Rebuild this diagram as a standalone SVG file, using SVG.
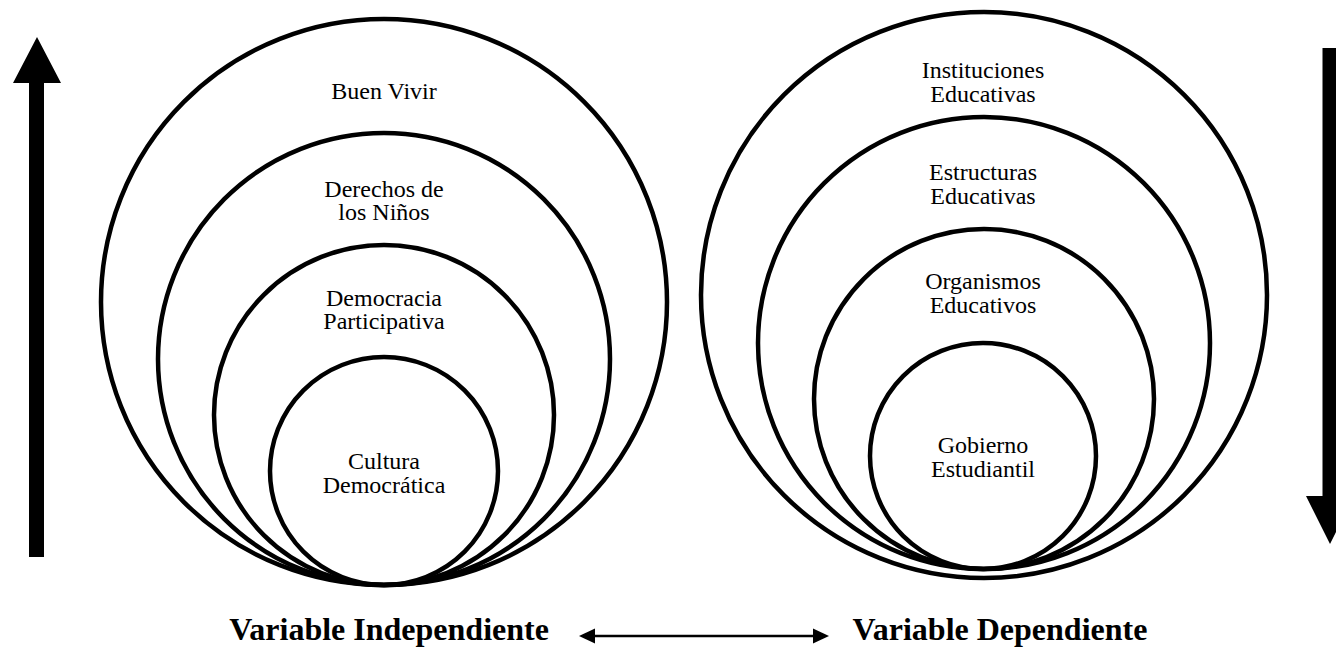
<svg xmlns="http://www.w3.org/2000/svg" width="1336" height="652" viewBox="0 0 1336 652">
<defs>
<style>
.ring{fill:none;stroke:#000;stroke-width:4.5}
.lbl{font-family:"Liberation Serif","Times New Roman",serif;font-size:24px;fill:#000;text-anchor:middle}
.var{font-family:"Liberation Serif","Times New Roman",serif;font-size:32px;font-weight:bold;fill:#000;text-anchor:middle}
.big{fill:#000}
</style>
<marker id="ah" viewBox="0 0 6 6" refX="5.5" refY="3" markerWidth="6" markerHeight="6" orient="auto-start-reverse" markerUnits="strokeWidth">
<path d="M0,0 L6,3 L0,6 Z" fill="#000"/>
</marker>
</defs>
<rect width="1336" height="652" fill="#fff"/>

<g id="left-set">
<g id="buen-vivir">
<circle class="ring" cx="384" cy="302" r="283"/>
<text class="lbl" x="384" y="99">Buen Vivir</text>
</g>
<g id="derechos">
<circle class="ring" cx="384" cy="359" r="226"/>
<text class="lbl" x="384" y="197">Derechos de</text>
<text class="lbl" x="384" y="220">los Niños</text>
</g>
<g id="democracia">
<circle class="ring" cx="384" cy="415" r="170"/>
<text class="lbl" x="384" y="306">Democracia</text>
<text class="lbl" x="384" y="329">Participativa</text>
</g>
<g id="cultura">
<circle class="ring" cx="384" cy="471" r="114"/>
<text class="lbl" x="384" y="469">Cultura</text>
<text class="lbl" x="384" y="493">Democrática</text>
</g>
</g>

<g id="right-set">
<g id="instituciones">
<circle class="ring" cx="984" cy="295" r="283"/>
<text class="lbl" x="983" y="78">Instituciones</text>
<text class="lbl" x="983" y="102">Educativas</text>
</g>
<g id="estructuras">
<circle class="ring" cx="984" cy="343" r="226"/>
<text class="lbl" x="983" y="180">Estructuras</text>
<text class="lbl" x="983" y="204">Educativas</text>
</g>
<g id="organismos">
<circle class="ring" cx="984" cy="399" r="170"/>
<text class="lbl" x="983" y="289">Organismos</text>
<text class="lbl" x="983" y="313">Educativos</text>
</g>
<g id="gobierno">
<circle class="ring" cx="983" cy="456" r="113"/>
<text class="lbl" x="983" y="453">Gobierno</text>
<text class="lbl" x="983" y="477">Estudiantil</text>
</g>
</g>

<g id="variable-independiente">
<text class="var" x="389" y="640">Variable Independiente</text>
</g>
<g id="variable-dependiente">
<text class="var" x="1000" y="640">Variable Dependiente</text>
</g>

<g id="connectors">
<path class="big" d="M29,557 L29,83 L13,83 L37,37 L61,83 L44,83 L44,557 Z"/>
<path class="big" d="M1322.5,48 L1337.5,48 L1337.5,496 L1354,496 L1330,544 L1306,496 L1322.5,496 Z"/>
<line x1="594" y1="636" x2="813" y2="636" stroke="#000" stroke-width="2.5"/>
<path d="M579,636 L595,628.5 L595,643.5 Z" fill="#000"/>
<path d="M829,636 L813,628.5 L813,643.5 Z" fill="#000"/>
</g>
</svg>
